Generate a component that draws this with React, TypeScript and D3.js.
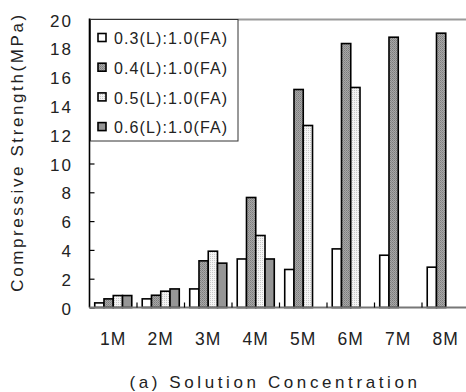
import * as d3 from 'd3';
import { useEffect, useRef } from 'react';

const W = 466;
const H = 392;

const categories = ['1M', '2M', '3M', '4M', '5M', '6M', '7M', '8M'];
const seriesNames = ['0.3(L):1.0(FA)', '0.4(L):1.0(FA)', '0.5(L):1.0(FA)', '0.6(L):1.0(FA)'];
// null = no bar for that concentration
const s03 = [0.32, 0.6, 1.29, 3.37, 2.64, 4.07, 3.63, 2.8];
const s04 = [0.6, 0.85, 3.24, 7.64, 15.14, 18.33, 18.77, 19.05];
const s05 = [0.83, 1.13, 3.91, 5.0, 12.64, 15.28, null, null];
const s06 = [0.83, 1.29, 3.08, 3.37, null, null, null, null];
const yTicks = [0, 2, 4, 6, 8, 10, 12, 14, 16, 18, 20];

const FONT = '"Liberation Sans", Arial, sans-serif';
const fills = ['#ffffff', 'url(#pat04)', 'url(#pat05)', '#969696'];

export default function App() {
    const svgRef = useRef<SVGSVGElement | null>(null);

    useEffect(() => {
        if (!svgRef.current) {
            return;
        }
        const svg = d3.select(svgRef.current);
        svg.selectAll('*').remove();

        const defs = svg.append('defs');
        const p4 = defs
            .append('pattern')
            .attr('id', 'pat04')
            .attr('width', 2)
            .attr('height', 2)
            .attr('patternUnits', 'userSpaceOnUse');
        p4.append('rect').attr('width', 2).attr('height', 2).attr('fill', '#a8a8a8');
        p4.append('rect').attr('width', 1).attr('height', 1).attr('fill', '#7c7c7c');
        p4.append('rect').attr('x', 1).attr('y', 1).attr('width', 1).attr('height', 1).attr('fill', '#8c8c8c');
        const p5 = defs
            .append('pattern')
            .attr('id', 'pat05')
            .attr('width', 2)
            .attr('height', 2)
            .attr('patternUnits', 'userSpaceOnUse');
        p5.append('rect').attr('width', 2).attr('height', 2).attr('fill', '#f4f4f4');
        p5.append('rect').attr('width', 1).attr('height', 1).attr('fill', '#c8c8c8');

        const left = 89.5;
        const right = 469.5;
        const top = 19.5;
        const bottom = 307.5;

        const x0 = d3.scaleBand().domain(categories).range([left, right]).paddingInner(0.22).paddingOuter(0.11);
        const x1 = d3.scaleBand().domain(seriesNames).range([0, x0.bandwidth()]);
        const y = d3.scaleLinear().domain([0, 20]).range([bottom, top]);

        const series = [s03, s04, s05, s06];

        // top frame line
        svg.append('line')
            .attr('x1', left).attr('x2', W)
            .attr('y1', top).attr('y2', top)
            .attr('stroke', '#9a9a9a').attr('stroke-width', 2);

        // bars
        series.forEach((vals, si) => {
            svg.append('g')
                .selectAll('rect')
                .data(categories.map((c, i) => ({ c, v: vals[i] })).filter((d) => d.v != null))
                .join('rect')
                .attr('x', (d) => (x0(d.c) ?? 0) + (x1(seriesNames[si]) ?? 0))
                .attr('y', (d) => y(d.v as number))
                .attr('width', x1.bandwidth())
                .attr('height', (d) => bottom - y(d.v as number))
                .attr('fill', fills[si])
                .attr('stroke', '#000')
                .attr('stroke-width', 1.6);
        });

        // y axis
        const ya = svg.append('g').attr('transform', `translate(${left},0)`).call(
            d3.axisRight(y).tickValues(yTicks).tickSize(5).tickFormat(() => '')
        );
        ya.select('.domain').remove();
        ya.selectAll('line').attr('stroke', '#000').attr('stroke-width', 1.2);
        svg.append('line')
            .attr('x1', left).attr('x2', left)
            .attr('y1', top - 1).attr('y2', bottom)
            .attr('stroke', '#000').attr('stroke-width', 1.6);

        svg.append('g')
            .selectAll('text')
            .data(yTicks)
            .join('text')
            .attr('x', 73)
            .attr('y', (d) => y(d) + 1)
            .attr('dy', '0.36em')
            .attr('text-anchor', 'end')
            .attr('font-family', FONT)
            .attr('font-size', 17)
            .attr('letter-spacing', 2)
            .attr('fill', '#222')
            .text((d) => d);

        // x axis
        svg.append('line')
            .attr('x1', left).attr('x2', W)
            .attr('y1', bottom).attr('y2', bottom)
            .attr('stroke', '#777').attr('stroke-width', 2);
        svg.append('g')
            .selectAll('line')
            .data(categories.slice(1))
            .join('line')
            .attr('x1', (d) => (x0(d) ?? 0) - x0.step() * 0.11)
            .attr('x2', (d) => (x0(d) ?? 0) - x0.step() * 0.11)
            .attr('y1', bottom)
            .attr('y2', bottom - 5)
            .attr('stroke', '#000')
            .attr('stroke-width', 1.2);

        svg.append('g')
            .selectAll('text')
            .data(categories)
            .join('text')
            .attr('x', (d) => (x0(d) ?? 0) + x0.bandwidth() / 2)
            .attr('y', 344.5)
            .attr('text-anchor', 'middle')
            .attr('font-family', FONT)
            .attr('font-size', 17.5)
            .attr('letter-spacing', 1.2)
            .attr('fill', '#222')
            .text((d) => d);

        svg.append('text')
            .attr('x', 275)
            .attr('y', 388)
            .attr('text-anchor', 'middle')
            .attr('font-family', FONT)
            .attr('font-size', 17)
            .attr('letter-spacing', 3.6)
            .attr('fill', '#222')
            .text('(a) Solution Concentration');

        svg.append('text')
            .attr('transform', `translate(23,152) rotate(-90)`)
            .attr('text-anchor', 'middle')
            .attr('font-family', FONT)
            .attr('font-size', 17)
            .attr('letter-spacing', 2.6)
            .attr('fill', '#222')
            .text('Compressive Strength(MPa)');

        // legend
        const lg = svg.append('g');
        lg.append('rect')
            .attr('x', 90.5).attr('y', top)
            .attr('width', 147.5).attr('height', 121.5)
            .attr('fill', '#fff').attr('stroke', '#333').attr('stroke-width', 1);
        seriesNames.forEach((name, i) => {
            const cy = 38 + i * 29.7;
            lg.append('rect')
                .attr('x', 98).attr('y', cy - 4.5)
                .attr('width', 8).attr('height', 8)
                .attr('fill', fills[i]).attr('stroke', '#000').attr('stroke-width', 1.6);
            lg.append('text')
                .attr('x', 114).attr('y', cy + 0.5)
                .attr('dy', '0.36em')
                .attr('font-family', FONT)
                .attr('font-size', 16)
                .attr('letter-spacing', 1.1)
                .attr('fill', '#222')
                .text(name);
        });
    }, []);

    return (
        <div style={{ position: 'absolute', left: 0, top: 0, width: W, height: H, overflow: 'hidden', background: '#fff' }}>
            <svg ref={svgRef} width={W} height={H} style={{ display: 'block' }} />
        </div>
    );
}
